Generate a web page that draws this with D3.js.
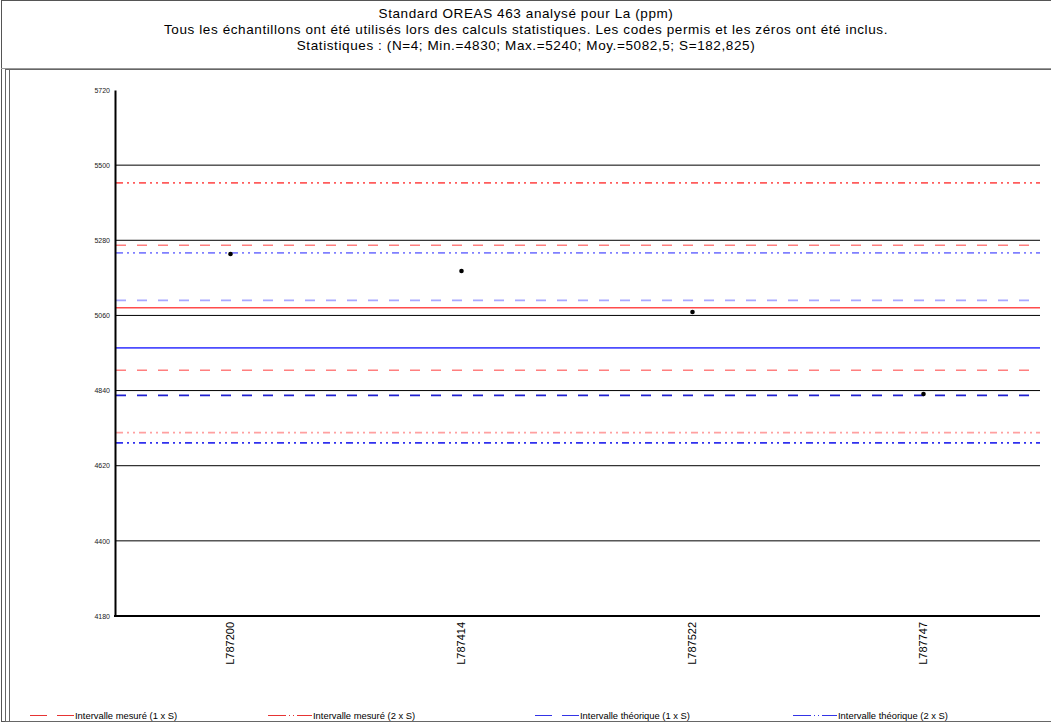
<!DOCTYPE html>
<html><head><meta charset="utf-8">
<script src="https://cdn.jsdelivr.net/npm/d3@7"></script>
<style>body{margin:0;background:#fff}svg{display:block;font-family:"Liberation Sans",Arial,sans-serif}</style>
</head><body><svg id="c" width="1051" height="725"></svg>
<script>
const titleLines = ["Standard OREAS 463 analysé pour La (ppm)",
  "Tous les échantillons ont été utilisés lors des calculs statistiques. Les codes permis et les zéros ont été inclus.",
  "Statistiques : (N=4; Min.=4830; Max.=5240; Moy.=5082,5; S=182,825)"];
const categories = ["L787200","L787414","L787522","L787747"];
const values = [5240,5190,5070,4830];
const yTicks = [4180,4400,4620,4840,5060,5280,5500,5720];
const measuredMean = 5082.5, measuredS = 182.825;
const theoMean = 4965, theoS = 139;
const refLines = [
  {v: measuredMean, color:"#ff4d4d", dash:null},
  {v: measuredMean+measuredS, color:"#ff7f7f", dash:"10,11"},
  {v: measuredMean-measuredS, color:"#ff7f7f", dash:"10,11"},
  {v: measuredMean+2*measuredS, color:"#ff5c5c", dash:"7,4,2,4,2,4"},
  {v: measuredMean-2*measuredS, color:"#ffa0a0", dash:"7,4,2,4,2,4"},
  {v: theoMean, color:"#4d4dff", dash:null},
  {v: theoMean+theoS, color:"#a8a8ff", dash:"10,11"},
  {v: theoMean-theoS, color:"#2020d0", dash:"10,11"},
  {v: theoMean+2*theoS, color:"#8080ff", dash:"7,4,2,4,2,4"},
  {v: theoMean-2*theoS, color:"#3030ee", dash:"7,4,2,4,2,4"}
];
const legendItems = [
  {label:"Intervalle mesuré (1 x S)", color:"#e00000", type:"gap", x:30},
  {label:"Intervalle mesuré (2 x S)", color:"#e00000", type:"dd", x:268},
  {label:"Intervalle théorique (1 x S)", color:"#0000e0", type:"gap", x:535},
  {label:"Intervalle théorique (2 x S)", color:"#0000e0", type:"dd", x:793}
];

const svg = d3.select("#c");
// frames
svg.append("rect").attr("x",1.5).attr("y",0.5).attr("width",1060).attr("height",721).attr("fill","none").attr("stroke","#555");
svg.append("rect").attr("x",5.5).attr("y",69.5).attr("width",1060).attr("height",652).attr("fill","none").attr("stroke","#666");
svg.append("line").attr("x1",9.5).attr("x2",9.5).attr("y1",69).attr("y2",722).attr("stroke","#666");
svg.append("line").attr("x1",1).attr("x2",1051).attr("y1",68.5).attr("y2",68.5).attr("stroke","#999");

titleLines.forEach((t,i)=>svg.append("text").attr("x",526).attr("y",18+i*16).attr("text-anchor","middle")
  .attr("font-size",13.5).attr("letter-spacing",0.6).attr("fill","#000").text(t));

const x = d3.scaleBand().domain(categories).range([115,1039]);
const y = d3.scaleLinear().domain([4180,5720]).range([616,90]);

// gridlines
svg.append("g").selectAll("line").data(yTicks.filter(t=>t>4180 && t<5720)).join("line")
  .attr("x1",115).attr("x2",1040).attr("y1",d=>y(d)).attr("y2",d=>y(d)).attr("stroke","#000").attr("stroke-width",1);

// reference lines
svg.append("g").selectAll("line").data(refLines).join("line")
  .attr("x1",116).attr("x2",1040).attr("y1",d=>y(d.v)).attr("y2",d=>y(d.v))
  .attr("stroke",d=>d.color).attr("stroke-width",1.6).attr("stroke-dasharray",d=>d.dash);

// y axis
const ya = svg.append("g").attr("transform","translate(115,0)")
  .call(d3.axisLeft(y).tickValues(yTicks).tickSize(0).tickPadding(5).tickFormat(d3.format("d")));
ya.select(".domain").attr("stroke","#000").attr("stroke-width",2);
ya.selectAll("text").attr("font-size",7).attr("font-family","Liberation Sans, Arial").attr("fill","#222");

// x axis
const xa = svg.append("g").attr("transform","translate(0,616)")
  .call(d3.axisBottom(x).tickSize(0).tickPadding(0));
xa.select(".domain").attr("d","M114,0H1040").attr("stroke","#000").attr("stroke-width",2);
xa.selectAll("text").attr("font-size",11).attr("font-family","Liberation Sans, Arial").attr("fill","#000")
  .attr("text-anchor","end").attr("transform","rotate(-90)").attr("x",-6).attr("y",0).attr("dy","0.35em");

// points
svg.append("g").selectAll("circle").data(values).join("circle")
  .attr("cx",(d,i)=>x(categories[i])+x.bandwidth()/2).attr("cy",d=>y(d)).attr("r",2.3).attr("fill","#000");

// legend
const lg = svg.append("g");
legendItems.forEach(it=>{
  const yy = 715.5;
  if(it.type==="gap"){
    lg.append("line").attr("x1",it.x).attr("x2",it.x+17).attr("y1",yy).attr("y2",yy).attr("stroke",it.color).attr("stroke-width",0.8);
    lg.append("line").attr("x1",it.x+27).attr("x2",it.x+44).attr("y1",yy).attr("y2",yy).attr("stroke",it.color).attr("stroke-width",0.8);
  } else {
    lg.append("line").attr("x1",it.x).attr("x2",it.x+44).attr("y1",yy).attr("y2",yy).attr("stroke",it.color).attr("stroke-width",0.8)
      .attr("stroke-dasharray","18,3,1,3,1,3,18");
  }
  lg.append("text").attr("x",it.x+45).attr("y",719).attr("font-size",9.4).attr("fill","#000").text(it.label);
});
</script></body></html>
